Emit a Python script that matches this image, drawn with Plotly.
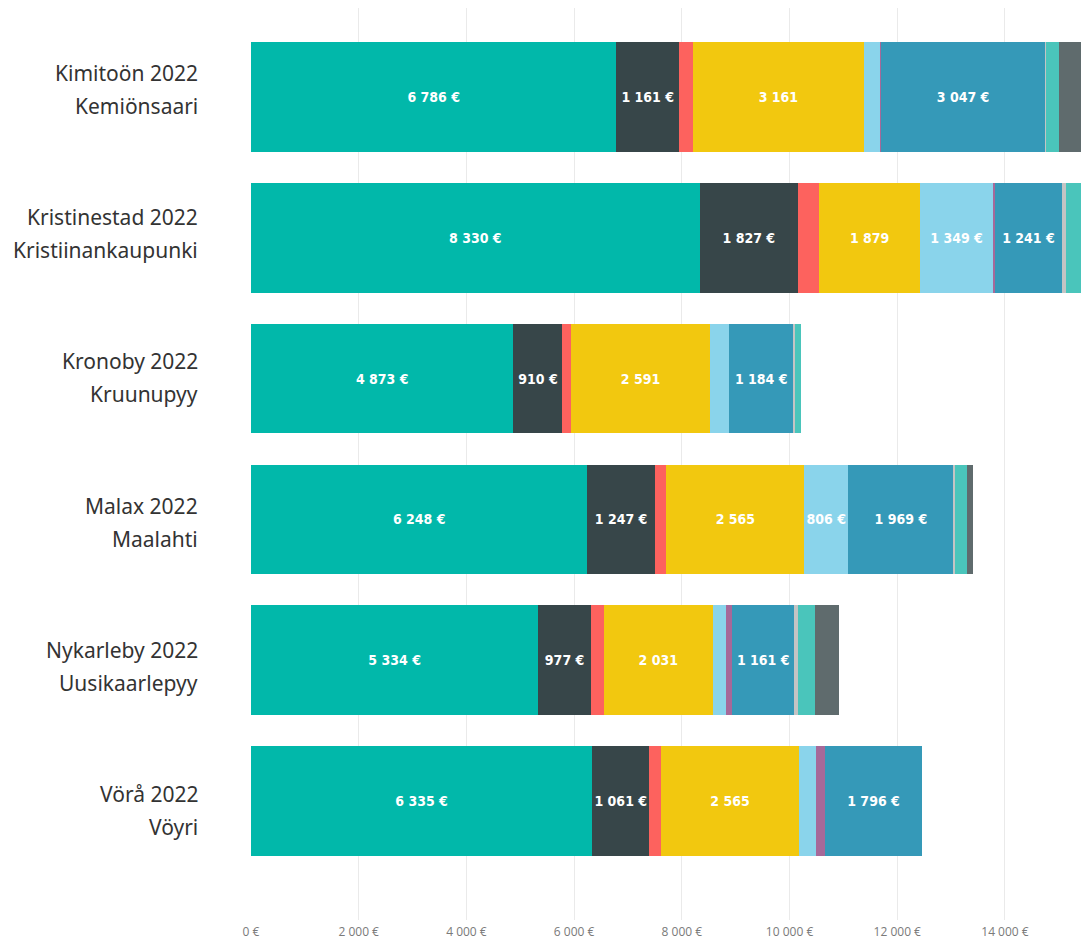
import plotly.graph_objects as go

# ---- data ----
names_line1 = ["Kimitoön 2022", "Kristinestad 2022", "Kronoby 2022",
               "Malax 2022", "Nykarleby 2022", "Vörå 2022"]
names_line2 = ["Kemiönsaari", "Kristiinankaupunki", "Kruunupyy",
               "Maalahti", "Uusikaarlepyy", "Vöyri"]
categories = [a + " / " + b for a, b in zip(names_line1, names_line2)]

s1 = [6786, 8330, 4873, 6248, 5334, 6335]
s2 = [1161, 1827, 910, 1247, 977, 1061]
s3 = [265, 390, 155, 217, 235, 217]
s4 = [3161, 1879, 2591, 2565, 2031, 2565]
s5 = [310, 1349, 353, 806, 248, 322]
s6 = [15, 40, 0, 0, 105, 161]
s7 = [3047, 1241, 1184, 1969, 1161, 1796]
s8 = [20, 75, 30, 20, 68, 0]
s9 = [240, 600, 120, 217, 322, 0]
s10 = [700, 300, 0, 124, 433, 0]

series = [
    ("Luokka 1", s1, "#01B8AA", True),
    ("Luokka 2", s2, "#374649", True),
    ("Luokka 3", s3, "#FD625E", True),
    ("Luokka 4", s4, "#F2C80F", False),
    ("Luokka 5", s5, "#8AD4EB", True),
    ("Luokka 6", s6, "#A66999", True),
    ("Luokka 7", s7, "#3599B8", True),
    ("Luokka 8", s8, "#C4C4C4", True),
    ("Luokka 9", s9, "#4AC5BB", True),
    ("Luokka 10", s10, "#5F6B6D", True),
]
x_ticks = [0, 2000, 4000, 6000, 8000, 10000, 12000, 14000]


def fmt(v, euro):
    s = f"{v:,}".replace(",", " ")
    return s + (" €" if euro else "")


x_ticktext = [fmt(v, True) for v in x_ticks]

fig = go.Figure()
for name, vals, color, euro in series:
    labels = [fmt(v, euro) if v >= 800 else "" for v in vals]
    fig.add_trace(go.Bar(
        name=name, y=categories, x=vals, orientation="h",
        marker=dict(color=color, line=dict(width=0)),
        text=labels, textposition="inside", insidetextanchor="middle",
        textangle=0,
        textfont=dict(family="DejaVu Sans Condensed, Roboto", size=14,
                      color="white", weight="bold"),
        hoverinfo="x+y+name",
    ))

# page body has an 8px margin; figure coordinates are page coords - 8
W, H = 1081, 932
plot_top, plot_bottom = 0, 914
pitch = 141.2
c0 = 89
r_top = -(c0 - plot_top) / pitch
r_bot = 5 + (plot_bottom - (c0 + 5 * pitch)) / pitch

fig.update_layout(
    barmode="stack",
    bargap=0.221,
    width=W, height=H,
    margin=dict(l=243, r=0, t=plot_top, b=H - plot_bottom, pad=0),
    paper_bgcolor="white", plot_bgcolor="white",
    showlegend=False,
    uniformtext=dict(mode="show", minsize=14),
    xaxis=dict(
        range=[0, 15560], tickmode="array", tickvals=x_ticks,
        ticktext=x_ticktext,
        showgrid=True, gridcolor="#EAEAEA", gridwidth=1,
        zeroline=False, showline=False, ticks="",
        ticklabelstandoff=3,
        tickfont=dict(family="Open Sans", size=12, color="#7A7A7A"),
    ),
    yaxis=dict(
        categoryorder="array", categoryarray=categories,
        range=[r_bot, r_top], showticklabels=False, showgrid=False,
        zeroline=False, ticks="",
    ),
)

# two-line category labels
ann_font = dict(family="Noto Sans", size=21, color="#333333")
for i, cat in enumerate(categories):
    fig.add_annotation(x=-51 / 838, xref="paper", y=cat, yref="y",
                       text=names_line1[i], showarrow=False, xanchor="right",
                       yanchor="middle", yshift=24 - 3.4 * i, font=ann_font)
    fig.add_annotation(x=-51 / 838, xref="paper", y=cat, yref="y",
                       text=names_line2[i], showarrow=False, xanchor="right",
                       yanchor="middle", yshift=-(9 + 3.4 * i), font=ann_font)

fig.write_html("out.html")
